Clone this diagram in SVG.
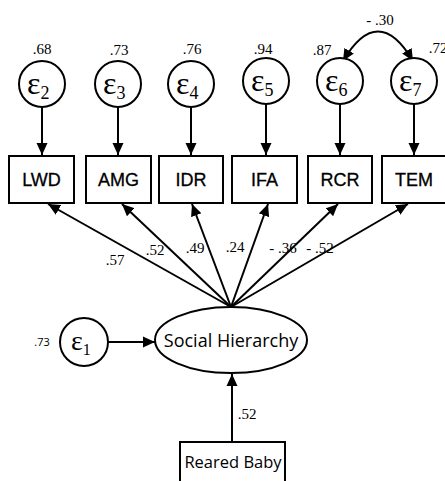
<svg xmlns="http://www.w3.org/2000/svg" width="445" height="481" viewBox="0 0 445 481">
<style>
.s{fill:#fff;stroke:#000;stroke-width:2}
.c{fill:none;stroke:#000;stroke-width:2}
.eps{font-family:"Liberation Serif",serif;font-size:32px;fill:#000}
.sub{font-size:18px}
.box{font-family:"Liberation Sans",Arial,sans-serif;font-size:18px;fill:#000;text-anchor:middle;stroke:#000;stroke-width:0.3}
.num{font-family:"Liberation Serif",serif;font-size:15px;fill:#000;text-anchor:middle}
.lat{font-family:"Open Sans","Noto Sans",sans-serif;fill:#000;text-anchor:middle}
</style>
<defs>
<marker id="ah" markerWidth="13" markerHeight="12" refX="12" refY="6" orient="auto-start-reverse" markerUnits="userSpaceOnUse">
<path d="M0,0.5 L12,6 L0,11.5 Z" fill="#000"/>
</marker>
</defs>
<g id="connectors" class="c">
<line x1="42" y1="107" x2="42" y2="155" marker-end="url(#ah)"/>
<line x1="118" y1="107" x2="118" y2="155" marker-end="url(#ah)"/>
<line x1="191" y1="107" x2="191" y2="155" marker-end="url(#ah)"/>
<line x1="266" y1="104" x2="266" y2="155" marker-end="url(#ah)"/>
<line x1="340" y1="104" x2="340" y2="155" marker-end="url(#ah)"/>
<line x1="414" y1="104" x2="414" y2="155" marker-end="url(#ah)"/>
<path d="M343,61 Q378,2 413,61" marker-start="url(#ah)" marker-end="url(#ah)"/>
<line x1="231" y1="307" x2="48" y2="204" marker-end="url(#ah)"/>
<line x1="231" y1="307" x2="122" y2="204" marker-end="url(#ah)"/>
<line x1="231" y1="307" x2="192" y2="204" marker-end="url(#ah)"/>
<line x1="231" y1="307" x2="268" y2="204" marker-end="url(#ah)"/>
<line x1="231" y1="307" x2="338" y2="204" marker-end="url(#ah)"/>
<line x1="231" y1="307" x2="408" y2="204" marker-end="url(#ah)"/>
<line x1="108" y1="342" x2="155" y2="342" marker-end="url(#ah)"/>
<line x1="232" y1="442" x2="232" y2="374" marker-end="url(#ah)"/>
</g>
<g id="e2"><circle class="s" cx="42" cy="84" r="23"/><text class="eps" x="27" y="94">ε<tspan class="sub" dy="5">2</tspan></text></g>
<g id="e3"><circle class="s" cx="118" cy="84" r="23"/><text class="eps" x="103" y="94">ε<tspan class="sub" dy="5">3</tspan></text></g>
<g id="e4"><circle class="s" cx="191" cy="84" r="23"/><text class="eps" x="176" y="94">ε<tspan class="sub" dy="5">4</tspan></text></g>
<g id="e5"><circle class="s" cx="266" cy="81" r="23"/><text class="eps" x="251" y="91">ε<tspan class="sub" dy="5">5</tspan></text></g>
<g id="e6"><circle class="s" cx="340" cy="81" r="23"/><text class="eps" x="325" y="91">ε<tspan class="sub" dy="5">6</tspan></text></g>
<g id="e7"><circle class="s" cx="414" cy="81" r="23"/><text class="eps" x="399" y="91">ε<tspan class="sub" dy="5">7</tspan></text></g>
<g id="LWD"><rect class="s" x="9" y="156" width="65" height="47"/><text class="box" x="41.5" y="186">LWD</text></g>
<g id="AMG"><rect class="s" x="86" y="156" width="65" height="47"/><text class="box" x="118.5" y="186">AMG</text></g>
<g id="IDR"><rect class="s" x="159" y="156" width="64" height="47"/><text class="box" x="191" y="186">IDR</text></g>
<g id="IFA"><rect class="s" x="232" y="156" width="65" height="47"/><text class="box" x="264.5" y="186">IFA</text></g>
<g id="RCR"><rect class="s" x="308" y="156" width="64" height="47"/><text class="box" x="340" y="186">RCR</text></g>
<g id="TEM"><rect class="s" x="382" y="156" width="64" height="47"/><text class="box" x="414" y="186">TEM</text></g>
<g id="SocialHierarchy"><ellipse class="s" cx="231" cy="340" rx="76" ry="33"/><text class="lat" x="231" y="347" style="font-size:18px">Social Hierarchy</text></g>
<g id="e1"><circle class="s" cx="84" cy="342" r="24"/><text class="eps" x="71" y="350" style="font-size:28px">ε<tspan class="sub" dy="5" style="font-size:16px">1</tspan></text></g>
<g id="RearedBaby"><rect class="s" x="180" y="442" width="105" height="45"/><text class="lat" x="233" y="468" style="font-size:16.5px">Reared Baby</text></g>
<g id="labels">
<text class="num" x="42" y="54">.68</text>
<text class="num" x="119" y="55">.73</text>
<text class="num" x="192" y="54">.76</text>
<text class="num" x="263" y="54">.94</text>
<text class="num" x="322" y="55">.87</text>
<text class="num" x="438" y="53">.72</text>
<text class="num" x="380" y="25">- .30</text>
<text class="num" x="115" y="265">.57</text>
<text class="num" x="155" y="255">.52</text>
<text class="num" x="195" y="253">.49</text>
<text class="num" x="235" y="252">.24</text>
<text class="num" x="283" y="253">- .36</text>
<text class="num" x="320" y="253">- .52</text>
<text class="num" x="247" y="419">.52</text>
<text class="num" x="42" y="346" style="font-family:'Open Sans',sans-serif;font-size:11px">.73</text>
</g>
</svg>
